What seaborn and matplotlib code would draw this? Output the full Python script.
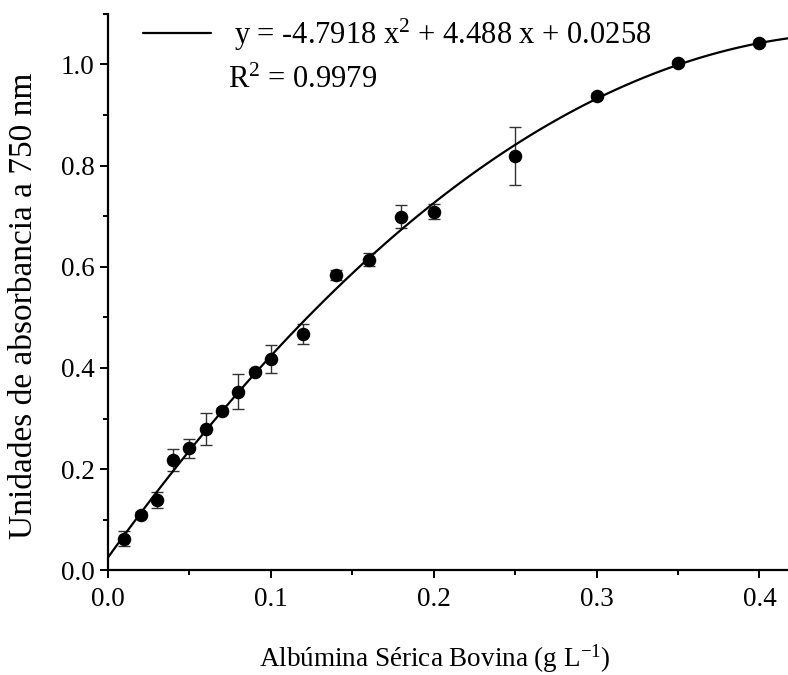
import numpy as np
import pandas as pd
import seaborn as sns
import matplotlib
matplotlib.use("Agg")
import matplotlib.pyplot as plt
from matplotlib.ticker import MultipleLocator, FormatStrFormatter

# data
bsa = [0.01, 0.02, 0.03, 0.04, 0.05, 0.06, 0.07, 0.08, 0.09, 0.10,
       0.12, 0.14, 0.16, 0.18, 0.20, 0.25, 0.30, 0.35, 0.40]
absorb = [0.063, 0.110, 0.139, 0.218, 0.241, 0.279, 0.315, 0.353, 0.393, 0.418,
          0.467, 0.583, 0.614, 0.699, 0.709, 0.819, 0.938, 1.003, 1.043]
err = [0.014, 0.005, 0.015, 0.021, 0.019, 0.032, 0.005, 0.035, 0.005, 0.028,
       0.020, 0.010, 0.013, 0.023, 0.015, 0.058, 0.005, 0.005, 0.005]

# quadratic fit printed on the chart
eq_text = "y = -4.7918 x$^{2}$ + 4.488 x + 0.0258"
r2 = 0.9979

sns.set_style("ticks")
plt.rcParams["font.family"] = ["Liberation Serif", "DejaVu Serif"]
plt.rcParams["mathtext.fontset"] = "custom"
plt.rcParams["mathtext.rm"] = "Liberation Serif"
plt.rcParams["mathtext.default"] = "regular"
for k in ["text.color", "axes.labelcolor", "xtick.color", "ytick.color", "axes.edgecolor"]:
    plt.rcParams[k] = "black"

df = pd.DataFrame({"x": bsa, "y": absorb, "err": err})
xmax = 0.4175

fig = plt.figure(figsize=(7.88, 6.75), dpi=100)
ax = fig.add_axes([0.137, 0.155, 0.863, 0.8245])
ax.set_xlim(0, xmax)
ax.set_ylim(0, 1.1)

ax.errorbar(df["x"], df["y"], yerr=df["err"], fmt="none", ecolor="#333333",
            elinewidth=1.0, capsize=4, capthick=1.0, zorder=2)
# second order polynomial fit, drawn across the whole x range
sns.regplot(data=df, x="x", y="y", ax=ax, order=2, ci=None, scatter=False,
            truncate=False, label=eq_text,
            line_kws={"color": "black", "linewidth": 1.6, "zorder": 3})
sns.scatterplot(data=df, x="x", y="y", ax=ax, color="black", s=95,
                edgecolor="black", linewidth=0, zorder=4, legend=False)

ax.set_xlim(0, xmax)
ax.set_ylim(0, 1.1)
ax.xaxis.set_major_locator(MultipleLocator(0.1))
ax.xaxis.set_minor_locator(MultipleLocator(0.05))
ax.yaxis.set_major_locator(MultipleLocator(0.2))
ax.yaxis.set_minor_locator(MultipleLocator(0.1))
ax.xaxis.set_major_formatter(FormatStrFormatter("%.1f"))
ax.yaxis.set_major_formatter(FormatStrFormatter("%.1f"))
ax.tick_params(which="major", direction="out", length=6, width=1.4,
               labelsize=19.5, color="black", labelcolor="black")
ax.tick_params(axis="x", which="major", pad=6)
ax.tick_params(which="minor", direction="out", length=3.5, width=1.4, color="black")

sns.despine(ax=ax)
for s in ["left", "bottom"]:
    ax.spines[s].set_linewidth(1.6)

ax.set_xlabel("Albúmina Sérica Bovina (g L$^{-1}$)", fontsize=19.5)
ax.set_ylabel("Unidades de absorbancia a 750 nm", fontsize=24)
ax.yaxis.set_label_coords(-0.102, 0.476)
ax.xaxis.set_label_coords(0.481, -0.13)

ax.legend(loc="upper left", bbox_to_anchor=(0.051, 0.995), frameon=False,
          fontsize=22, handlelength=2.25, handletextpad=0.75,
          borderpad=0, borderaxespad=0)
ax.text(0.177, 0.881, "R$^{2}$ = %.4f" % r2, transform=ax.transAxes,
        fontsize=22, ha="left", va="center")

fig.savefig("out.png", dpi=100)
